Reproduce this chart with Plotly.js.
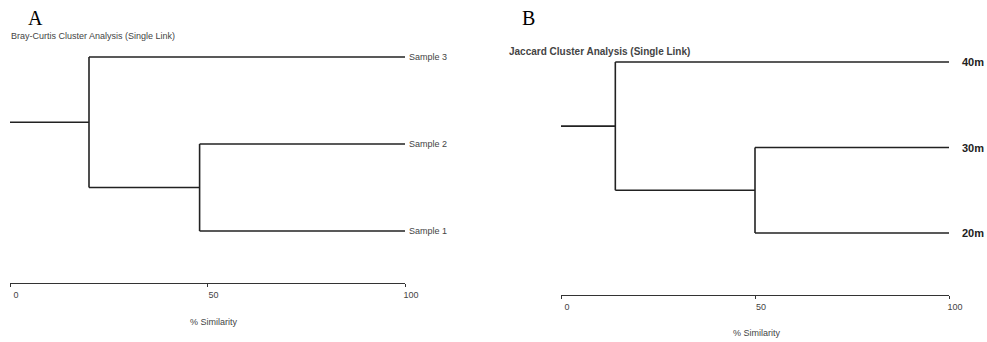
<!DOCTYPE html>
<html><head><meta charset="utf-8">
<script src="https://cdn.plot.ly/plotly-3.0.1.min.js"></script>
<style>html,body{margin:0;padding:0;background:#fff}</style>
</head><body>
<div id="chart" style="width:987px;height:342px"></div>
<script>
// Panel A data
const leavesA = ['Sample 1', 'Sample 2', 'Sample 3'];
const mergeA = [48, 20];          // % similarity: (Sample 1, Sample 2), then + Sample 3
const titleA = 'Bray-Curtis Cluster Analysis (Single Link)';
// Panel B data
const leavesB = ['20m', '30m', '40m'];
const mergeB = [50, 14];          // % similarity: (20m, 30m), then + 40m
const titleB = 'Jaccard Cluster Analysis (Single Link)';
// Axis
const tickVals = [0, 50, 100];
const tickText = ['0', '50', '100'];
const axisTitle = '% Similarity';

function dendro(merge, xa, ya) {
  const xs = [], ys = [];
  const seg = (x0, y0, x1, y1) => { xs.push(x0, x1, null); ys.push(y0, y1, null); };
  const n1y = 1.5, n2y = (n1y + 3) / 2;
  // leaves
  seg(merge[0], 1, 100, 1);
  seg(merge[0], 2, 100, 2);
  seg(merge[1], 3, 100, 3);
  // node 1
  seg(merge[0], 1, merge[0], 2);
  seg(merge[1], n1y, merge[0], n1y);
  // node 2
  seg(merge[1], n1y, merge[1], 3);
  // root stub
  seg(0, n2y, merge[1], n2y);
  return {x: xs, y: ys, xaxis: xa, yaxis: ya, mode: 'lines', type: 'scatter',
          line: {color: '#222', width: 1.6}, hoverinfo: 'skip'};
}

const data = [dendro(mergeA, 'x', 'y'), dendro(mergeB, 'x2', 'y2')];

const axBase = {
  range: [0, 100], anchor: 'free', showline: true, linecolor: '#333', linewidth: 1,
  ticks: 'outside', ticklen: 3, tickcolor: '#333', tickvals: tickVals, ticktext: tickText,
  showgrid: false, zeroline: false, fixedrange: true, ticklabelshift: 6,
  tickfont: {family: 'Arial, Liberation Sans, sans-serif', size: 9, color: '#444'}
};

const ann = [];
leavesA.forEach((t, i) => ann.push({x: 100, y: i + 1, xref: 'x', yref: 'y', text: t, showarrow: false,
  xanchor: 'left', xshift: 2, font: {family: 'Arial, Liberation Sans, sans-serif', size: 9, color: '#444'}}));
leavesB.forEach((t, i) => ann.push({x: 100, y: i + 1, xref: 'x2', yref: 'y2', text: '<b>' + t + '</b>', showarrow: false,
  xanchor: 'left', xshift: 11, font: {family: 'Arial, Liberation Sans, sans-serif', size: 11, color: '#222'}}));
const px = (x) => x / 987, py = (y) => 1 - y / 342;
ann.push({xref: 'paper', yref: 'paper', x: px(26), y: py(18), xanchor: 'left', yanchor: 'middle', text: 'A', showarrow: false,
  font: {family: 'Liberation Serif, Times New Roman, serif', size: 20, color: '#000'}});
ann.push({xref: 'paper', yref: 'paper', x: px(520), y: py(18), xanchor: 'left', yanchor: 'middle', text: 'B', showarrow: false,
  font: {family: 'Liberation Serif, Times New Roman, serif', size: 20, color: '#000'}});
ann.push({xref: 'paper', yref: 'paper', x: px(9), y: py(36), xanchor: 'left', yanchor: 'middle', text: titleA, showarrow: false,
  font: {family: 'Arial, Liberation Sans, sans-serif', size: 9, color: '#444'}});
ann.push({xref: 'paper', yref: 'paper', x: px(507), y: py(51), xanchor: 'left', yanchor: 'middle', text: '<b>' + titleB + '</b>', showarrow: false,
  font: {family: 'Arial, Liberation Sans, sans-serif', size: 10, color: '#444'}});
ann.push({xref: 'paper', yref: 'paper', x: px(214), y: py(322), xanchor: 'center', yanchor: 'middle', text: axisTitle, showarrow: false,
  font: {family: 'Arial, Liberation Sans, sans-serif', size: 9, color: '#444'}});
ann.push({xref: 'paper', yref: 'paper', x: px(757), y: py(333), xanchor: 'center', yanchor: 'middle', text: axisTitle, showarrow: false,
  font: {family: 'Arial, Liberation Sans, sans-serif', size: 9, color: '#444'}});

const layout = {
  width: 987, height: 342, margin: {l: 0, r: 0, t: 0, b: 0},
  paper_bgcolor: '#fff', plot_bgcolor: '#fff', showlegend: false,
  xaxis: Object.assign({}, axBase, {domain: [10 / 987, 405 / 987], position: py(283)}),
  xaxis2: Object.assign({}, axBase, {domain: [561 / 987, 949 / 987], position: py(295)}),
  yaxis: {domain: [0, 1], range: [1 - 111 / 87, 3 + 57 / 87], visible: false, fixedrange: true},
  yaxis2: {domain: [0, 1], range: [1 - 109 / 85.5, 3 + 62 / 85.5], visible: false, fixedrange: true, anchor: 'x2'},
  annotations: ann
};

Plotly.newPlot('chart', data, layout, {displayModeBar: false, staticPlot: true});
</script>
</body></html>
